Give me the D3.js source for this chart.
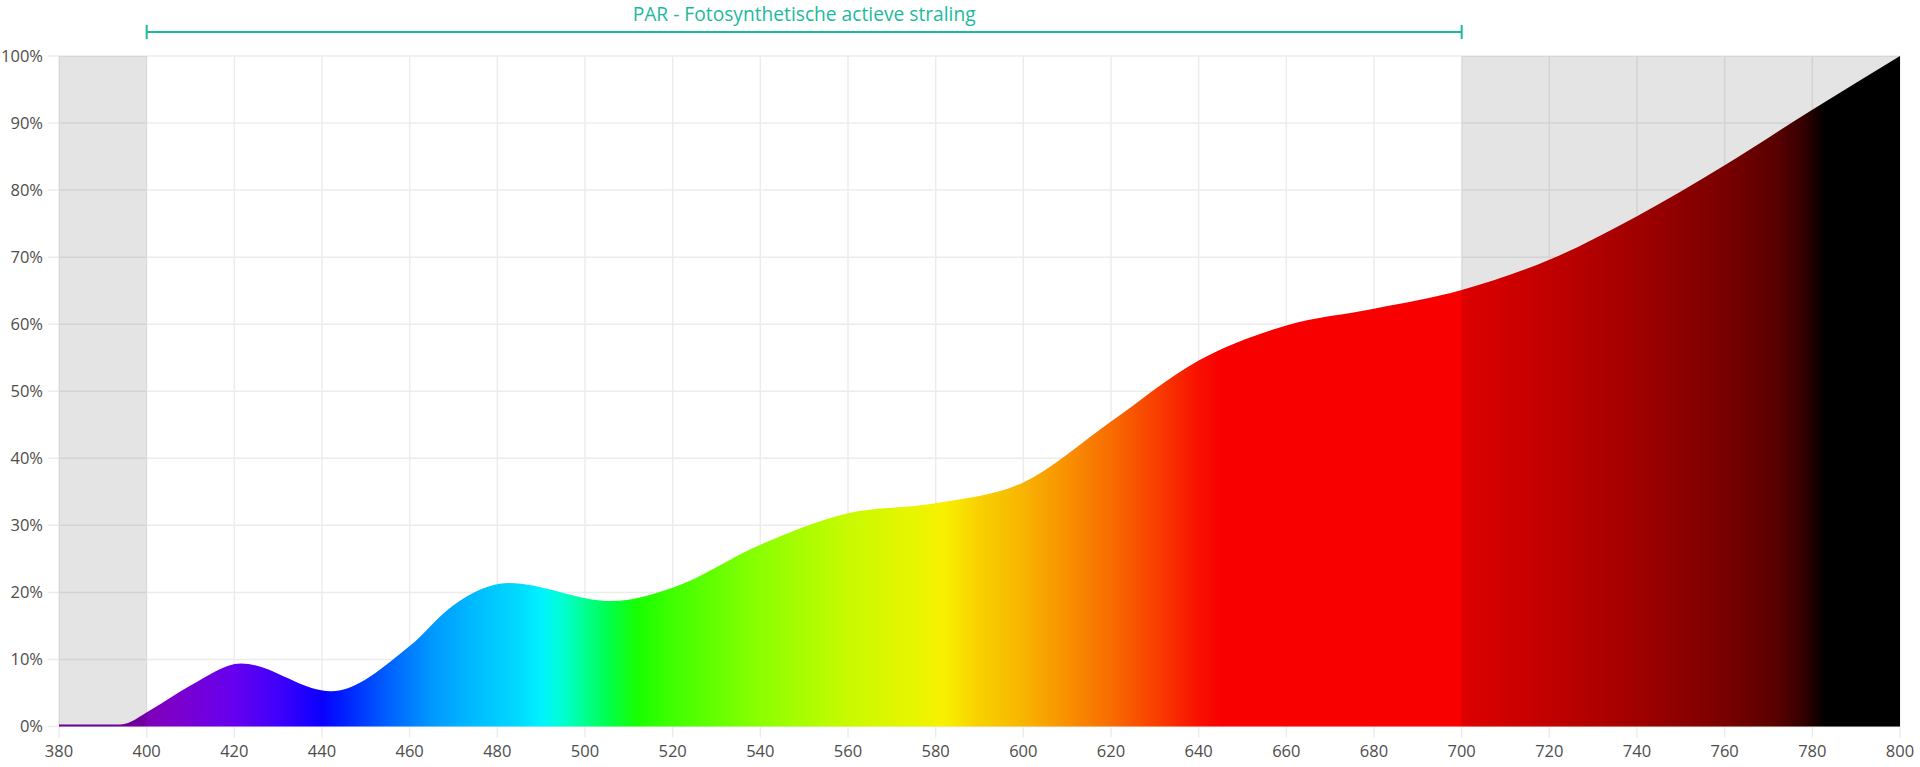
<!DOCTYPE html>
<html>
<head>
<meta charset="utf-8">
<script src="https://cdn.jsdelivr.net/npm/d3@7"></script>
<style>
  html, body { margin: 0; padding: 0; background: #fff; }
  svg { display: block; }
  text { font-family: "Open Sans", Lato, sans-serif; }
</style>
</head>
<body>
<svg id="chart" width="1920" height="767"></svg>
<script>
// ---- data ----
const wavelengths = [380, 394, 401, 410, 421.5, 442, 460, 470, 482.5, 506, 520, 540, 560, 580, 600, 620, 640, 660, 680, 700, 720, 740, 760, 780, 800];
const values      = [0.3, 0.3, 2.5, 6.1, 9.4, 5.25, 12.0, 18.1, 21.4, 18.7, 20.7, 27.1, 31.8, 33.3, 36.4, 45.5, 54.6, 59.8, 62.3, 65.1, 69.6, 76.1, 83.7, 92.0, 100];
const xTicks = [380, 400, 420, 440, 460, 480, 500, 520, 540, 560, 580, 600, 620, 640, 660, 680, 700, 720, 740, 760, 780, 800];
const yTicks = [0, 10, 20, 30, 40, 50, 60, 70, 80, 90, 100];
const outsideBands = [[380, 400], [700, 800]];
const parRange = [400, 700];
const parLabel = "PAR - Fotosynthetische actieve straling";
const spectrumNm     = [380, 395, 405, 420, 430, 440, 445, 455, 465, 475, 485, 490, 495, 500, 505, 512, 520, 540, 560, 575, 582, 590, 600, 610, 620, 630, 640, 645, 700, 720, 740, 760, 772, 778, 783, 800];
const spectrumColors = ["#7a00a0", "#7a00a8", "#7e00c8", "#6600f0", "#4000fa", "#0a00ff", "#0020ff", "#0060ff", "#0098ff", "#00bcff", "#00daff", "#00f2ff", "#00ffd0", "#00ff90", "#00ff50", "#18ff00", "#40ff00", "#8cff00", "#c8fa00", "#e8f500", "#f8f000", "#f8d000", "#f8b400", "#f89000", "#f86c00", "#f84000", "#f81000", "#f80000", "#f80000", "#d80000", "#b40000", "#880000", "#640000", "#3a0000", "#000000", "#000000"];

// ---- layout ----
const svg = d3.select("#chart");
const x = d3.scaleLinear().domain([380, 800]).range([59, 1900]);
const y = d3.scaleLinear().domain([0, 100]).range([726.5, 56]);
const teal = "#1cb99c";
const labelColor = "#4d4d4d";

// gradient
const defs = svg.append("defs");
const grad = defs.append("linearGradient")
  .attr("id", "spectrum")
  .attr("gradientUnits", "userSpaceOnUse")
  .attr("x1", x(380)).attr("x2", x(800)).attr("y1", 0).attr("y2", 0);
spectrumNm.forEach((nm, i) => {
  grad.append("stop")
    .attr("offset", (nm - 380) / 420)
    .attr("stop-color", spectrumColors[i]);
});

// gridlines
const grid = svg.append("g");
grid.selectAll("line.h").data(yTicks).join("line")
  .attr("x1", 48).attr("x2", x(800))
  .attr("y1", d => y(d)).attr("y2", d => y(d))
  .attr("stroke", "#ececec").attr("stroke-width", 1.5);
grid.selectAll("line.v").data(xTicks).join("line")
  .attr("x1", d => x(d)).attr("x2", d => x(d))
  .attr("y1", y(100)).attr("y2", y(0) + 11)
  .attr("stroke", "#ececec").attr("stroke-width", 1.5);

// area
const pts = wavelengths.map((w, i) => [w, values[i]]);
const area = d3.area()
  .x(d => x(d[0]))
  .y0(y(0))
  .y1(d => y(d[1]))
  .curve(d3.curveMonotoneX);
svg.append("path")
  .datum(pts)
  .attr("d", area)
  .attr("fill", "url(#spectrum)");

// outside-PAR overlay bands
svg.append("g").selectAll("rect").data(outsideBands).join("rect")
  .attr("x", d => x(d[0]))
  .attr("width", d => x(d[1]) - x(d[0]))
  .attr("y", y(100))
  .attr("height", y(0) - y(100))
  .attr("fill", "rgba(0,0,0,0.106)");

// y labels
svg.append("g").selectAll("text").data(yTicks).join("text")
  .attr("x", 43)
  .attr("y", d => y(d))
  .attr("dy", "0.36em")
  .attr("text-anchor", "end")
  .attr("font-size", 16.5)
  .attr("fill", labelColor)
  .text(d => d + "%");

// x labels
svg.append("g").selectAll("text").data(xTicks).join("text")
  .attr("x", d => x(d))
  .attr("y", 757)
  .attr("text-anchor", "middle")
  .attr("font-size", 16.5)
  .attr("fill", labelColor)
  .text(d => d);

// PAR annotation
const par = svg.append("g");
par.append("line")
  .attr("x1", x(parRange[0])).attr("x2", x(parRange[1]))
  .attr("y1", 32).attr("y2", 32)
  .attr("stroke", teal).attr("stroke-width", 2);
par.selectAll("line.cap").data(parRange).join("line")
  .attr("x1", d => x(d)).attr("x2", d => x(d))
  .attr("y1", 25).attr("y2", 39)
  .attr("stroke", teal).attr("stroke-width", 2);
par.append("text")
  .attr("x", (x(parRange[0]) + x(parRange[1])) / 2)
  .attr("y", 21)
  .attr("text-anchor", "middle")
  .attr("font-size", 19.2)
  .attr("fill", teal)
  .text(parLabel);
</script>
</body>
</html>
